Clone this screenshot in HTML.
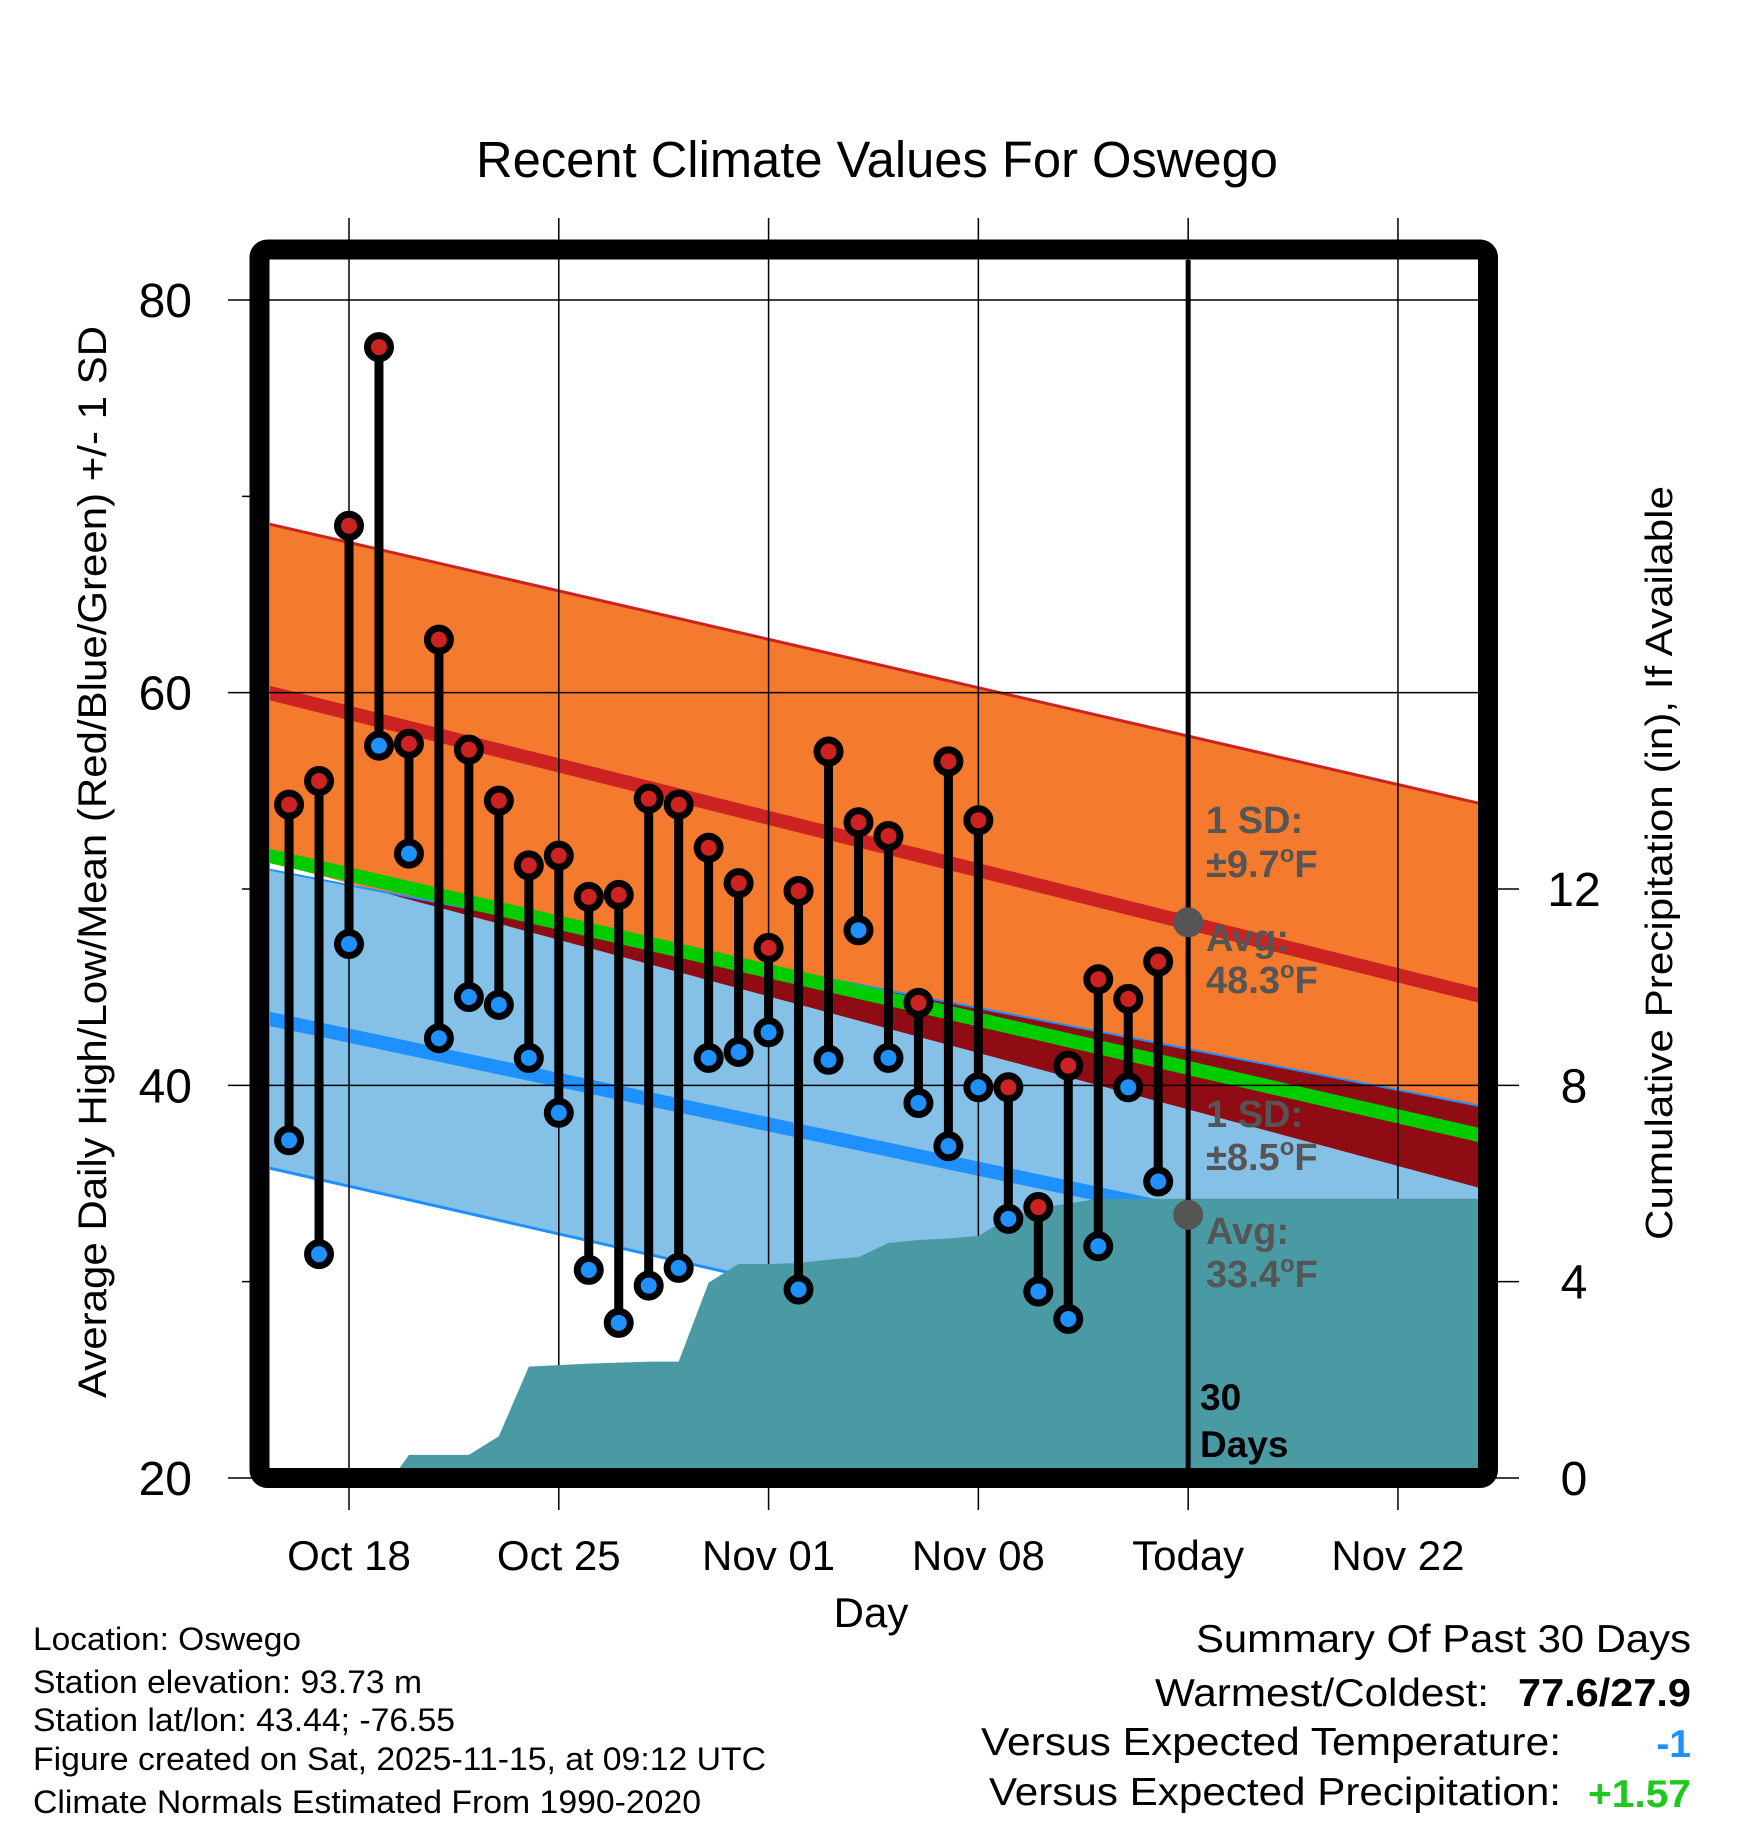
<!DOCTYPE html>
<html><head><meta charset="utf-8"><style>
html,body{margin:0;padding:0;background:#fff;}
svg{display:block;font-family:"Liberation Sans",Arial,sans-serif;}
</style></head><body>
<svg id="chart" width="1748" height="1828" viewBox="0 0 1748 1828">
<defs><clipPath id="plotclip"><rect x="270" y="260" width="1208" height="1208"/></clipPath></defs>
<g id="bg" clip-path="url(#plotclip)"></g>
<g id="grid"></g>
<g id="fg" clip-path="url(#plotclip)"></g>
<g id="marks"></g>
<rect x="259.5" y="249.5" width="1228.5" height="1228.5" rx="8" fill="none" stroke="#000" stroke-width="20"/>
<text x="877" y="177" font-size="51" text-anchor="middle" textLength="802" lengthAdjust="spacingAndGlyphs">Recent Climate Values For Oswego</text>
<text transform="translate(106,862) rotate(-90)" font-size="40" text-anchor="middle" textLength="1072" lengthAdjust="spacingAndGlyphs">Average Daily High/Low/Mean (Red/Blue/Green) +/- 1 SD</text>
<text transform="translate(1672,863) rotate(-90)" font-size="38" text-anchor="middle" textLength="754" lengthAdjust="spacingAndGlyphs">Cumulative Precipitation (in), If Available</text>
<text x="871" y="1627" font-size="42" text-anchor="middle">Day</text>
<g font-size="38" font-weight="bold" fill="#555">
<text x="1206" y="833">1 SD:</text>
<text x="1206" y="877">±9.7<tspan font-size="24" dy="-15">o</tspan><tspan dy="15">F</tspan></text>
<text x="1206" y="951">Avg:</text>
<text x="1206" y="993">48.3<tspan font-size="24" dy="-15">o</tspan><tspan dy="15">F</tspan></text>
<text x="1206" y="1127">1 SD:</text>
<text x="1206" y="1170">±8.5<tspan font-size="24" dy="-15">o</tspan><tspan dy="15">F</tspan></text>
<text x="1206" y="1244">Avg:</text>
<text x="1206" y="1287">33.4<tspan font-size="24" dy="-15">o</tspan><tspan dy="15">F</tspan></text>
</g>
<g font-size="37" font-weight="bold" fill="#000">
<text x="1200" y="1410">30</text><text x="1200" y="1457">Days</text></g>
<g font-size="32">
<text x="33" y="1650" textLength="268" lengthAdjust="spacingAndGlyphs">Location: Oswego</text>
<text x="33" y="1693" textLength="389" lengthAdjust="spacingAndGlyphs">Station elevation: 93.73 m</text>
<text x="33" y="1731" textLength="422" lengthAdjust="spacingAndGlyphs">Station lat/lon: 43.44; -76.55</text>
<text x="33" y="1770" textLength="733" lengthAdjust="spacingAndGlyphs">Figure created on Sat, 2025-11-15, at 09:12 UTC</text>
<text x="33" y="1813" textLength="668" lengthAdjust="spacingAndGlyphs">Climate Normals Estimated From 1990-2020</text>
</g>
<g font-size="39">
<text x="1691" y="1652" text-anchor="end" textLength="495" lengthAdjust="spacingAndGlyphs">Summary Of Past 30 Days</text>
<text x="1489" y="1706" text-anchor="end" textLength="334" lengthAdjust="spacingAndGlyphs">Warmest/Coldest:</text>
<text x="1691" y="1706" text-anchor="end" font-weight="bold" textLength="173" lengthAdjust="spacingAndGlyphs">77.6/27.9</text>
<text x="1561" y="1755" text-anchor="end" textLength="580" lengthAdjust="spacingAndGlyphs">Versus Expected Temperature:</text>
<text x="1691" y="1757" text-anchor="end" font-weight="bold" fill="#1e90ff">-1</text>
<text x="1561" y="1805" text-anchor="end" textLength="572" lengthAdjust="spacingAndGlyphs">Versus Expected Precipitation:</text>
<text x="1691" y="1807" text-anchor="end" font-weight="bold" fill="#1ec81e" textLength="103" lengthAdjust="spacingAndGlyphs">+1.57</text>
</g>
</svg>
<script>
// data: day offsets relative to Oct 18
const days = [-2,-1,0,1,2,3,4,5,6,7,8,9,10,11,12,13,14,15,16,17,18,19,20,21,22,23,24,25,26,27];
const highs = [54.3,55.5,68.5,77.6,57.4,62.7,57.1,54.5,51.2,51.7,49.6,49.7,54.6,54.3,52.1,50.3,47.0,49.9,57.0,53.4,52.7,44.2,56.5,53.5,39.9,33.8,41.0,45.4,44.4,46.3];
const lows = [37.2,31.4,47.2,57.3,51.8,42.4,44.5,44.1,41.4,38.6,30.6,27.9,29.8,30.7,41.4,41.7,42.7,29.6,41.3,47.9,41.4,39.1,36.9,39.9,33.2,29.5,28.1,31.8,39.9,35.1];
const precip = [0,0,0,0,0.47,0.47,0.47,0.85,2.27,2.30,2.33,2.35,2.37,2.37,3.98,4.36,4.36,4.38,4.45,4.50,4.79,4.85,4.88,4.93,5.30,5.50,5.59,5.69,5.69,5.69];
const normDays = [-2.7, 37.9];
const highMean = [60.0, 44.5];
const highSD = [8.6, 9.8];
const lowMean = [43.4, 30.3];
const lowSD = [7.6, 8.6];
const tempTicks = [20,40,60,80];
const tempMinor = [30,50,70];
const precipTicks = [0,4,8,12];
const xTickDays = [0,7,14,21,28,35];
const xTickLabels = ["Oct 18","Oct 25","Nov 01","Nov 08","Today","Nov 22"];
const todayDay = 28;
const todayHigh = 48.3, todayLow = 33.4;

const NS="http://www.w3.org/2000/svg";
const X = d => 349 + 29.97*d;
const Y = t => 300 + (80 - t)*19.633;
const P = p => 1478 - p*49.08;
function mk(tag, attrs, parent){const e=document.createElementNS(NS,tag);for(const k in attrs)e.setAttribute(k,attrs[k]);parent.appendChild(e);return e;}
const bg=document.getElementById('bg'), grid=document.getElementById('grid'), fg=document.getElementById('fg'), marks=document.getElementById('marks');
function lin(arr,d){const f=(d-normDays[0])/(normDays[1]-normDays[0]);return arr[0]+(arr[1]-arr[0])*f;}
const d0=normDays[0], d1=normDays[1];
function bandPts(fTop,fBot){return `${X(d0)},${Y(fTop(d0))} ${X(d1)},${Y(fTop(d1))} ${X(d1)},${Y(fBot(d1))} ${X(d0)},${Y(fBot(d0))}`;}
const hU=d=>lin(highMean,d)+lin(highSD,d), hL=d=>lin(highMean,d)-lin(highSD,d);
const lU=d=>lin(lowMean,d)+lin(lowSD,d), lL=d=>lin(lowMean,d)-lin(lowSD,d);
let e;
e=mk('polygon',{points:bandPts(hU,hL),fill:'#f47a2e'},bg);


e=mk('polygon',{points:bandPts(lU,lL),fill:'#85c1e6'},bg);


const oT=d=>Math.min(hU(d),lU(d)), oB=d=>Math.max(hL(d),lL(d));
const ov=[];for(let i=0;i<=40;i++){const d=d0+(d1-d0)*i/40;if(oT(d)>oB(d))ov.push([d,oT(d),oB(d)]);}
if(ov.length){const pts=ov.map(o=>X(o[0])+','+Y(o[1])).concat(ov.slice().reverse().map(o=>X(o[0])+','+Y(o[2])));
e=mk('polygon',{points:pts.join(' '),fill:'#900c14'},bg);

}
function line(f,col,w,name){const el=mk('line',{x1:X(d0),y1:Y(f(d0)),x2:X(d1),y2:Y(f(d1)),stroke:col,'stroke-width':w},bg);}
line(hU,'#cc2222',3,'high-upper-line');
line(lU,'#1e90ff',2,'low-upper-line');
line(lL,'#1e90ff',3,'low-lower-line');
line(d=>lin(highMean,d),'#cc2222',14,'high-mean-line');
line(d=>lin(lowMean,d),'#1e90ff',14,'low-mean-line');
line(d=>(lin(highMean,d)+lin(lowMean,d))/2,'#00cc00',14,'mean-line');
xTickDays.forEach((d,i)=>{
 e=mk('line',{x1:X(d),y1:218,x2:X(d),y2:1510,stroke:'#000','stroke-width':1.5},grid);
 
 
 e=mk('text',{x:X(d),y:1570,'font-size':42,'text-anchor':'middle'},grid);e.textContent=xTickLabels[i];
 
 
});
tempTicks.forEach(t=>{
 if(t<80&&t>20){e=mk('line',{x1:228,y1:Y(t),x2:1478,y2:Y(t),stroke:'#000','stroke-width':1.5},grid);}
 else {e=mk('line',{x1:228,y1:Y(t),x2:t===80?1478:260,y2:Y(t),stroke:'#000','stroke-width':1.5},grid);}
 
 
 e=mk('text',{x:192,y:Y(t)+17,'font-size':48,'text-anchor':'end'},grid);e.textContent=t;
 
 
});
tempMinor.forEach(t=>{e=mk('line',{x1:242,y1:Y(t),x2:260,y2:Y(t),stroke:'#000','stroke-width':1.5},grid);
 
 });
precipTicks.forEach(p=>{
 e=mk('line',{x1:1488,y1:P(p),x2:1519,y2:P(p),stroke:'#000','stroke-width':1.5},grid);
 
 
 e=mk('text',{x:1574,y:P(p)+17,'font-size':48,'text-anchor':'middle'},grid);e.textContent=p;
 
 
});
let pp=[`${X(1.45)},${P(0)}`];
days.forEach((d,i)=>{if(d>=2)pp.push(`${X(d)},${P(precip[i])}`);});
pp.push(`${X(40)},${P(precip[precip.length-1])}`,`${X(40)},${P(0)}`);
e=mk('polygon',{points:pp.join(' '),fill:'#4a9aa4'},fg);


e=mk('line',{x1:X(todayDay),y1:260,x2:X(todayDay),y2:1468,stroke:'#000','stroke-width':5},marks);


e=mk('circle',{cx:X(todayDay),cy:Y(todayHigh),r:15,fill:'#555'},marks);


e=mk('circle',{cx:X(todayDay),cy:Y(todayLow),r:15,fill:'#555'},marks);


days.forEach((d,i)=>{
 e=mk('line',{x1:X(d),y1:Y(highs[i]),x2:X(d),y2:Y(lows[i]),stroke:'#000','stroke-width':9},marks);
 
 
});
days.forEach((d,i)=>{
 e=mk('circle',{cx:X(d),cy:Y(highs[i]),r:11.5,fill:'#cc2222',stroke:'#000','stroke-width':7},marks);
 
 
 e=mk('circle',{cx:X(d),cy:Y(lows[i]),r:11.5,fill:'#1e90ff',stroke:'#000','stroke-width':7},marks);
 
 
});
</script>
</body></html>
